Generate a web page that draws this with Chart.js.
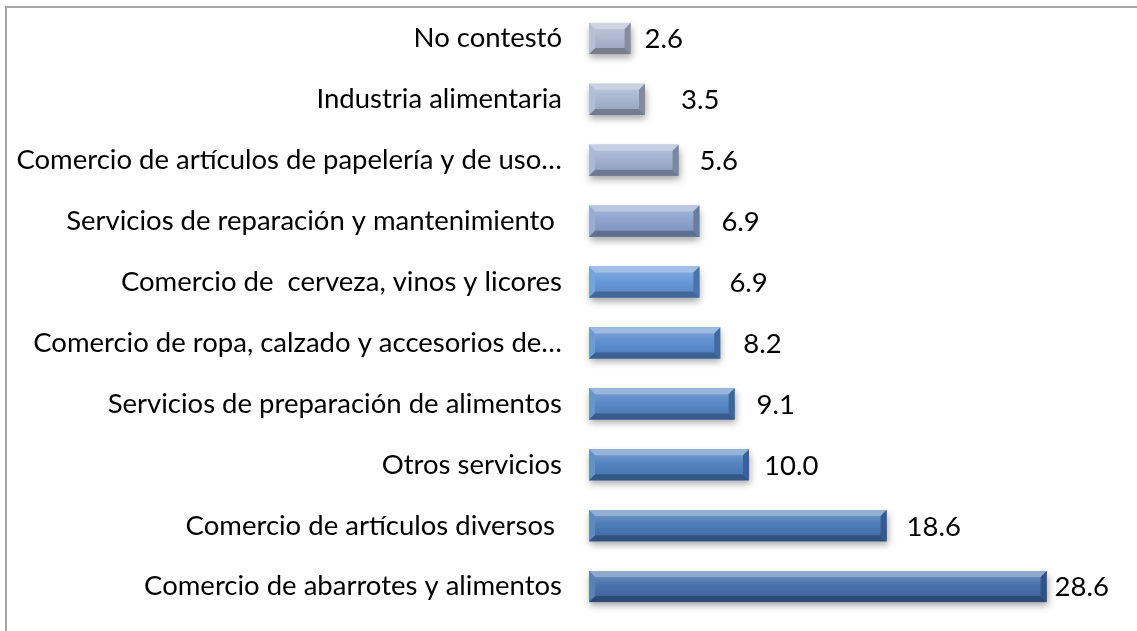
<!DOCTYPE html>
<html lang="es">
<head>
  <meta charset="UTF-8" />
  <title>Giro de los negocios</title>
  <script src="https://cdn.jsdelivr.net/npm/chart.js"></script>
  <style>
    html, body {
      margin: 0;
      padding: 0;
      background: #ffffff;
      overflow: hidden;
    }

    .frame {
      position: absolute;
      left: 5px;
      top: 6px;
      width: 1300px;
      height: 800px;
      border-left: 2px solid #a6a6a6;
      border-top: 2px solid #a6a6a6;
    }

    .wrap {
      position: absolute;
      left: 0;
      top: 0;
      width: 1137px;
      height: 631px;
    }
  </style>
</head>
<body>
  <div class="frame"></div>
  <div class="wrap"><canvas id="giroChart"></canvas></div>

  <script>
    // top to bottom, as drawn
    const categories = [
      'No contestó',
      'Industria alimentaria',
      'Comercio de artículos de papelería y de uso…',
      'Servicios de reparación y mantenimiento ',
      'Comercio de  cerveza, vinos y licores',
      'Comercio de ropa, calzado y accesorios de…',
      'Servicios de preparación de alimentos',
      'Otros servicios',
      'Comercio de artículos diversos ',
      'Comercio de abarrotes y alimentos'
    ];
    const percentages = [2.6, 3.5, 5.6, 6.9, 6.9, 8.2, 9.1, 10.0, 18.6, 28.6];

    // bar colours, grey-blue at the top getting deeper towards the bottom
    const barColors = ['#aab5cc', '#a4b2cd', '#9dadcf', '#879fcb', '#5f93d6', '#5689cd', '#4f82c5', '#4a7cbe', '#4475b4', '#3e6ba7'];
    // space between the end of each bar and its value label
    const labelGap = [14, 36, 21, 22, 30, 23, 22, 15, 20, 8];

    const FONT = 'Lato, "Noto Sans", sans-serif';
    const FONT_SIZE = 27.5;

    function shade(hex, amt) {
      const n = parseInt(hex.slice(1), 16);
      let r = (n >> 16) & 255, g = (n >> 8) & 255, b = n & 255;
      const t = amt < 0 ? 0 : 255;
      const p = Math.abs(amt);
      r = Math.round(r + (t - r) * p);
      g = Math.round(g + (t - g) * p);
      b = Math.round(b + (t - b) * p);
      return `rgb(${r},${g},${b})`;
    }

    function poly(ctx, pts, fill) {
      ctx.beginPath();
      ctx.moveTo(pts[0][0], pts[0][1]);
      for (let i = 1; i < pts.length; i++) ctx.lineTo(pts[i][0], pts[i][1]);
      ctx.closePath();
      ctx.fillStyle = fill;
      ctx.fill();
    }

    // bevelled bar with a soft drop shadow
    function drawBevelBar(ctx, x0, x1, y0, y1, color) {
      const b = Math.min(6, (x1 - x0) / 2, (y1 - y0) / 2);

      ctx.save();
      ctx.shadowColor = 'rgba(0,0,0,0.35)';
      ctx.shadowBlur = 7;
      ctx.shadowOffsetX = 1;
      ctx.shadowOffsetY = 4;
      ctx.fillStyle = color;
      ctx.fillRect(x0, y0, x1 - x0, y1 - y0);
      ctx.restore();

      const face = ctx.createLinearGradient(0, y0, 0, y1);
      face.addColorStop(0, shade(color, 0.28));
      face.addColorStop(0.45, shade(color, 0.06));
      face.addColorStop(1, shade(color, -0.1));
      ctx.fillStyle = face;
      ctx.fillRect(x0, y0, x1 - x0, y1 - y0);

      poly(ctx, [[x0, y0], [x1, y0], [x1 - b, y0 + b], [x0 + b, y0 + b]], shade(color, 0.42));
      poly(ctx, [[x0, y1], [x1, y1], [x1 - b, y1 - b], [x0 + b, y1 - b]], shade(color, -0.3));
      poly(ctx, [[x0, y0], [x0 + b, y0 + b], [x0 + b, y1 - b], [x0, y1]], shade(color, 0.15));
      poly(ctx, [[x1, y0], [x1 - b, y0 + b], [x1 - b, y1 - b], [x1, y1]], shade(color, -0.22));
    }

    const bevelBars = {
      id: 'bevelBars',
      afterDatasetsDraw(chart) {
        const ctx = chart.ctx;
        const meta = chart.getDatasetMeta(0);
        ctx.save();
        meta.data.forEach((bar, i) => {
          const half = bar.height / 2;
          const x0 = Math.min(bar.base, bar.x);
          const x1 = Math.max(bar.base, bar.x);
          drawBevelBar(ctx, x0, x1, bar.y - half, bar.y + half, barColors[i]);
        });
        ctx.font = `${FONT_SIZE}px ${FONT}`;
        ctx.fillStyle = '#000000';
        ctx.textAlign = 'left';
        ctx.textBaseline = 'middle';
        meta.data.forEach((bar, i) => {
          ctx.fillText(percentages[i].toFixed(1), bar.x + labelGap[i], bar.y + 1);
        });
        ctx.restore();
      }
    };

    new Chart(document.getElementById('giroChart'), {
      type: 'bar',
      data: {
        labels: categories,
        datasets: [{
          data: percentages,
          backgroundColor: 'rgba(0,0,0,0)',
          borderWidth: 0,
          categoryPercentage: 1,
          barPercentage: 0.51
        }]
      },
      options: {
        indexAxis: 'y',
        responsive: true,
        maintainAspectRatio: false,
        animation: false,
        layout: {
          padding: { left: 0, right: 68, top: 8, bottom: 14 }
        },
        plugins: {
          legend: { display: false },
          tooltip: { enabled: false }
        },
        scales: {
          x: {
            display: false,
            min: 0,
            max: 30
          },
          y: {
            grid: { display: false, drawTicks: false },
            border: { display: false },
            afterFit(scale) {
              scale.width = 589;
              scale.paddingTop = 0;
              scale.paddingBottom = 0;
            },
            ticks: {
              padding: 27,
              color: '#000000',
              autoSkip: false,
              font: { family: FONT, size: FONT_SIZE }
            }
          }
        }
      },
      plugins: [bevelBars]
    });
  </script>
</body>
</html>
